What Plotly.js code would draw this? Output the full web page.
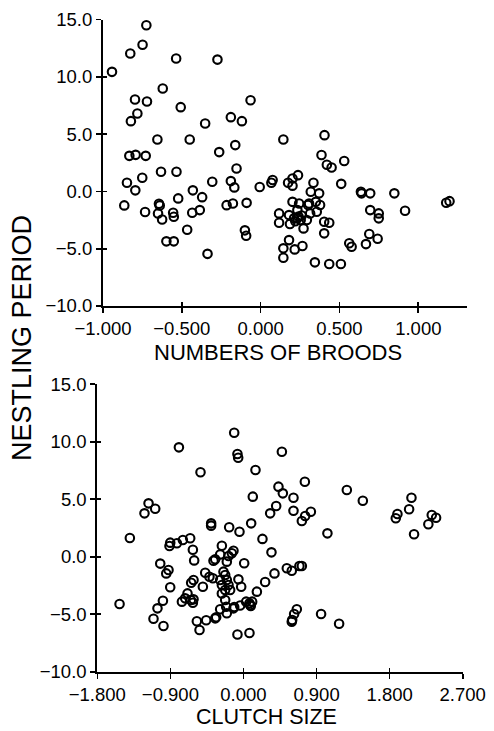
<!DOCTYPE html>
<html>
<head>
<meta charset="utf-8">
<script src="https://cdn.plot.ly/plotly-3.0.1.min.js"></script>
<style>html,body{margin:0;padding:0;background:#fff;}#chart{width:494px;height:731px;}</style>
</head>
<body>
<div id="chart"></div>
<script>
// ---- Top panel: nestling period vs numbers of broods ----
var broodsX = [-0.943,-0.827,-0.749,-0.725,-0.536,-0.274,-0.621,-0.797,-0.721,-0.782,-0.823,-0.507,-0.064,-0.352,-0.189,-0.119,-0.655,-0.450,-0.263,-0.161,-0.833,-0.793,-0.729,-0.153,-0.632,-0.534,-0.751,-0.848,-0.795,-0.430,-0.307,-0.189,-0.167,-0.865,-0.733,-0.645,-0.640,-0.651,-0.625,-0.555,-0.551,-0.523,-0.371,-0.434,-0.386,-0.466,-0.598,-0.551,-0.337,-0.216,-0.176,-0.089,-0.100,-0.092,-0.006,0.144,0.405,0.386,0.420,0.450,0.530,0.068,0.076,0.174,0.202,0.237,0.202,0.335,0.318,0.371,0.511,0.636,0.640,0.695,0.848,0.202,0.244,0.301,0.307,0.350,0.377,0.117,0.117,0.180,0.186,0.233,0.233,0.254,0.212,0.272,0.293,0.314,0.356,0.403,0.435,0.403,0.695,0.749,0.749,0.916,1.177,1.198,0.689,0.742,0.562,0.577,0.668,0.180,0.144,0.216,0.265,0.144,0.344,0.435,0.509,0.240,0.220,0.260];
var broodsY = [10.43,12.03,12.80,14.50,11.60,11.50,8.98,8.02,7.85,6.80,6.13,7.35,7.96,5.93,6.48,6.13,4.53,4.53,3.43,4.04,3.10,3.19,3.10,2.00,1.71,1.71,1.19,0.75,0.09,0.09,0.84,0.90,0.35,-1.22,-1.80,-1.08,-1.22,-1.92,-2.45,-1.86,-2.21,-0.61,-0.50,-1.86,-1.63,-3.34,-4.36,-4.36,-5.45,-1.20,-1.05,-1.00,-3.40,-3.87,0.38,4.53,4.91,3.17,2.32,2.09,2.65,0.75,0.99,0.75,1.13,1.42,0.50,0.75,-0.03,-0.17,0.66,-0.03,-0.17,-0.17,-0.17,-0.91,-1.05,-1.19,-1.05,-0.91,-1.19,-1.92,-2.74,-2.07,-2.85,-1.63,-2.35,-2.50,-2.35,-3.23,-2.50,-1.92,-1.78,-2.65,-2.74,-3.66,-1.63,-1.92,-2.35,-1.69,-0.99,-0.85,-3.72,-4.13,-4.53,-4.83,-4.60,-4.25,-4.97,-5.06,-4.77,-5.79,-6.19,-6.34,-6.34,-2.20,-2.60,-2.10];

// ---- Bottom panel: nestling period vs clutch size ----
var clutchX = [-0.114,-0.074,-0.065,-0.795,-0.529,-1.169,-1.219,-1.087,-1.399,-0.398,-0.398,-0.176,-0.049,0.115,0.095,-0.902,-0.911,-0.820,-0.746,-0.656,-0.623,-0.607,-0.266,-1.025,-0.923,-0.951,0.009,0.473,0.148,0.431,0.485,0.616,0.756,0.403,0.329,0.616,0.830,0.760,0.719,1.273,1.470,1.034,2.069,2.040,1.896,1.876,2.319,2.372,2.277,2.101,0.234,0.345,0.534,0.595,0.689,0.719,0.382,0.267,0.165,-0.062,-0.028,0.033,0.074,0.082,0.107,-0.114,-0.041,0.657,0.624,0.600,0.595,0.956,1.178,-0.074,0.074,-1.526,-0.902,-0.992,-1.059,-1.108,-0.985,-0.758,-0.718,-0.689,-0.648,-0.623,-0.615,-0.644,-0.615,-0.500,-0.471,-0.419,-0.377,-0.574,-0.541,-0.459,-0.336,-0.287,-0.213,-0.205,-0.123,-0.348,-0.369,-0.287,-0.184,-0.143,-0.123,-0.246,-0.225,-0.287,-0.205,-0.266,-0.184,-0.225,-0.266,-0.164,-0.225,-0.205,-0.348,0.090];
var clutchY = [10.78,8.93,8.61,9.51,7.34,4.64,3.77,4.17,1.63,2.90,2.70,2.56,2.17,5.22,2.90,1.22,0.93,1.17,1.45,1.60,0.60,-0.32,0.95,-0.60,-1.16,-1.45,-0.57,9.13,7.54,6.09,5.51,5.13,6.52,4.41,3.77,4.00,3.91,3.54,3.10,5.80,4.87,2.03,5.13,4.12,3.71,3.34,3.63,3.39,2.82,1.95,1.55,0.38,-1.01,-1.22,-0.81,-0.81,-1.45,-2.20,-3.04,-1.97,-2.61,-3.91,-4.05,-4.20,-3.91,-4.38,-4.24,-4.57,-4.98,-5.50,-5.65,-4.98,-5.83,-6.76,-6.63,-4.11,-2.66,-3.83,-4.49,-5.39,-6.03,-3.91,-3.62,-3.19,-3.77,-4.00,-3.71,-2.26,-2.03,-2.61,-1.40,-1.74,-1.88,-5.61,-6.37,-5.53,-5.27,-4.57,-4.35,-4.92,-4.49,-0.23,-0.35,0.20,0.06,0.30,0.52,-1.30,-1.59,-2.03,-2.03,-2.46,-2.46,-2.90,-3.19,-2.90,-3.77,-0.43,-5.36,-4.29];

// ---- Tick values and labels ----
var broodsTicks = [-1.0, -0.5, 0.0, 0.5, 1.0];
var broodsTickText = ['\u22121.000', '\u22120.500', '0.000', '0.500', '1.000'];
var clutchTicks = [-1.8, -0.9, 0.0, 0.9, 1.8, 2.7];
var clutchTickText = ['\u22121.800', '\u22120.900', '0.000', '0.900', '1.800', '2.700'];
var periodTicks = [-10, -5, 0, 5, 10, 15];
var periodTickText = ['\u221210.0', '\u22125.0', '0.0', '5.0', '10.0', '15.0'];

var FONT = 'Liberation Sans, Arial, Helvetica, sans-serif';
var marker = {symbol: 'circle-open', size: 8.5, color: '#000', line: {width: 2.1, color: '#000'}};

var traces = [
  {type: 'scatter', mode: 'markers', x: broodsX, y: broodsY, xaxis: 'x', yaxis: 'y', marker: marker, showlegend: false, hoverinfo: 'x+y'},
  {type: 'scatter', mode: 'markers', x: clutchX, y: clutchY, xaxis: 'x2', yaxis: 'y2', marker: marker, showlegend: false, hoverinfo: 'x+y'},
  {type: 'scatter', mode: 'markers', x: [null], y: [null], xaxis: 'x3', yaxis: 'y3', showlegend: false, hoverinfo: 'skip'},
  {type: 'scatter', mode: 'markers', x: [null], y: [null], xaxis: 'x4', yaxis: 'y4', showlegend: false, hoverinfo: 'skip'}
];

function mainAxis(extra) {
  var a = {
    showline: true, linecolor: '#000', linewidth: 2,
    ticks: 'outside', ticklen: 5, tickwidth: 1.6, tickcolor: '#000',
    showgrid: false, zeroline: false, fixedrange: true,
    tickfont: {family: FONT, size: 18.5, color: '#000'}
  };
  for (var k in extra) a[k] = extra[k];
  return a;
}
function innerTicks(extra) {
  var a = {
    showline: false, ticks: 'inside', ticklen: 4, tickwidth: 1.6, tickcolor: '#000',
    showticklabels: false, showgrid: false, zeroline: false, fixedrange: true
  };
  for (var k in extra) a[k] = extra[k];
  return a;
}

var W = 494, H = 731;
var topXDom = [103 / W, 466.7 / W];
var topYDom = [1 - 306 / H, 1 - 19.5 / H];
var botXDom = [97.3 / W, 462.7 / W];
var botYDom = [1 - 671.7 / H, 1 - 384.2 / H];
var topXRange = [-1.0, 1.307];
var botXRange = [-1.8, 2.7];
var yRange = [-10, 15];

var layout = {
  width: W, height: H,
  margin: {l: 0, r: 0, t: 0, b: 0},
  paper_bgcolor: '#fff', plot_bgcolor: '#fff',
  font: {family: FONT, color: '#000'},
  xaxis: mainAxis({domain: topXDom, anchor: 'y', range: topXRange, tickvals: broodsTicks, ticktext: broodsTickText}),
  yaxis: mainAxis({domain: topYDom, anchor: 'x', range: yRange, tickvals: periodTicks, ticktext: periodTickText}),
  xaxis2: mainAxis({domain: botXDom, anchor: 'y2', range: botXRange, tickvals: clutchTicks, ticktext: clutchTickText}),
  yaxis2: mainAxis({domain: botYDom, anchor: 'x2', range: yRange, tickvals: periodTicks, ticktext: periodTickText}),
  xaxis3: innerTicks({overlaying: 'x', anchor: 'y3', range: topXRange, tickvals: broodsTicks}),
  yaxis3: innerTicks({overlaying: 'y', anchor: 'x3', range: yRange, tickvals: periodTicks}),
  xaxis4: innerTicks({overlaying: 'x2', anchor: 'y4', range: botXRange, tickvals: clutchTicks}),
  yaxis4: innerTicks({overlaying: 'y2', anchor: 'x4', range: yRange, tickvals: periodTicks}),
  annotations: [
    {text: 'NUMBERS OF BROODS', xref: 'paper', yref: 'paper', x: 278.3 / W, y: 1 - 352 / H, xanchor: 'center', yanchor: 'middle', showarrow: false, font: {family: FONT, size: 22, color: '#000'}},
    {text: 'CLUTCH SIZE', xref: 'paper', yref: 'paper', x: 266.7 / W, y: 1 - 717 / H, xanchor: 'center', yanchor: 'middle', showarrow: false, font: {family: FONT, size: 21.5, color: '#000'}},
    {text: 'NESTLING PERIOD', xref: 'paper', yref: 'paper', x: 22 / W, y: 1 - 338 / H, xanchor: 'center', yanchor: 'middle', textangle: -90, showarrow: false, font: {family: FONT, size: 27, color: '#000'}}
  ]
};

Plotly.newPlot('chart', traces, layout, {displayModeBar: false, staticPlot: true});
</script>
</body>
</html>
